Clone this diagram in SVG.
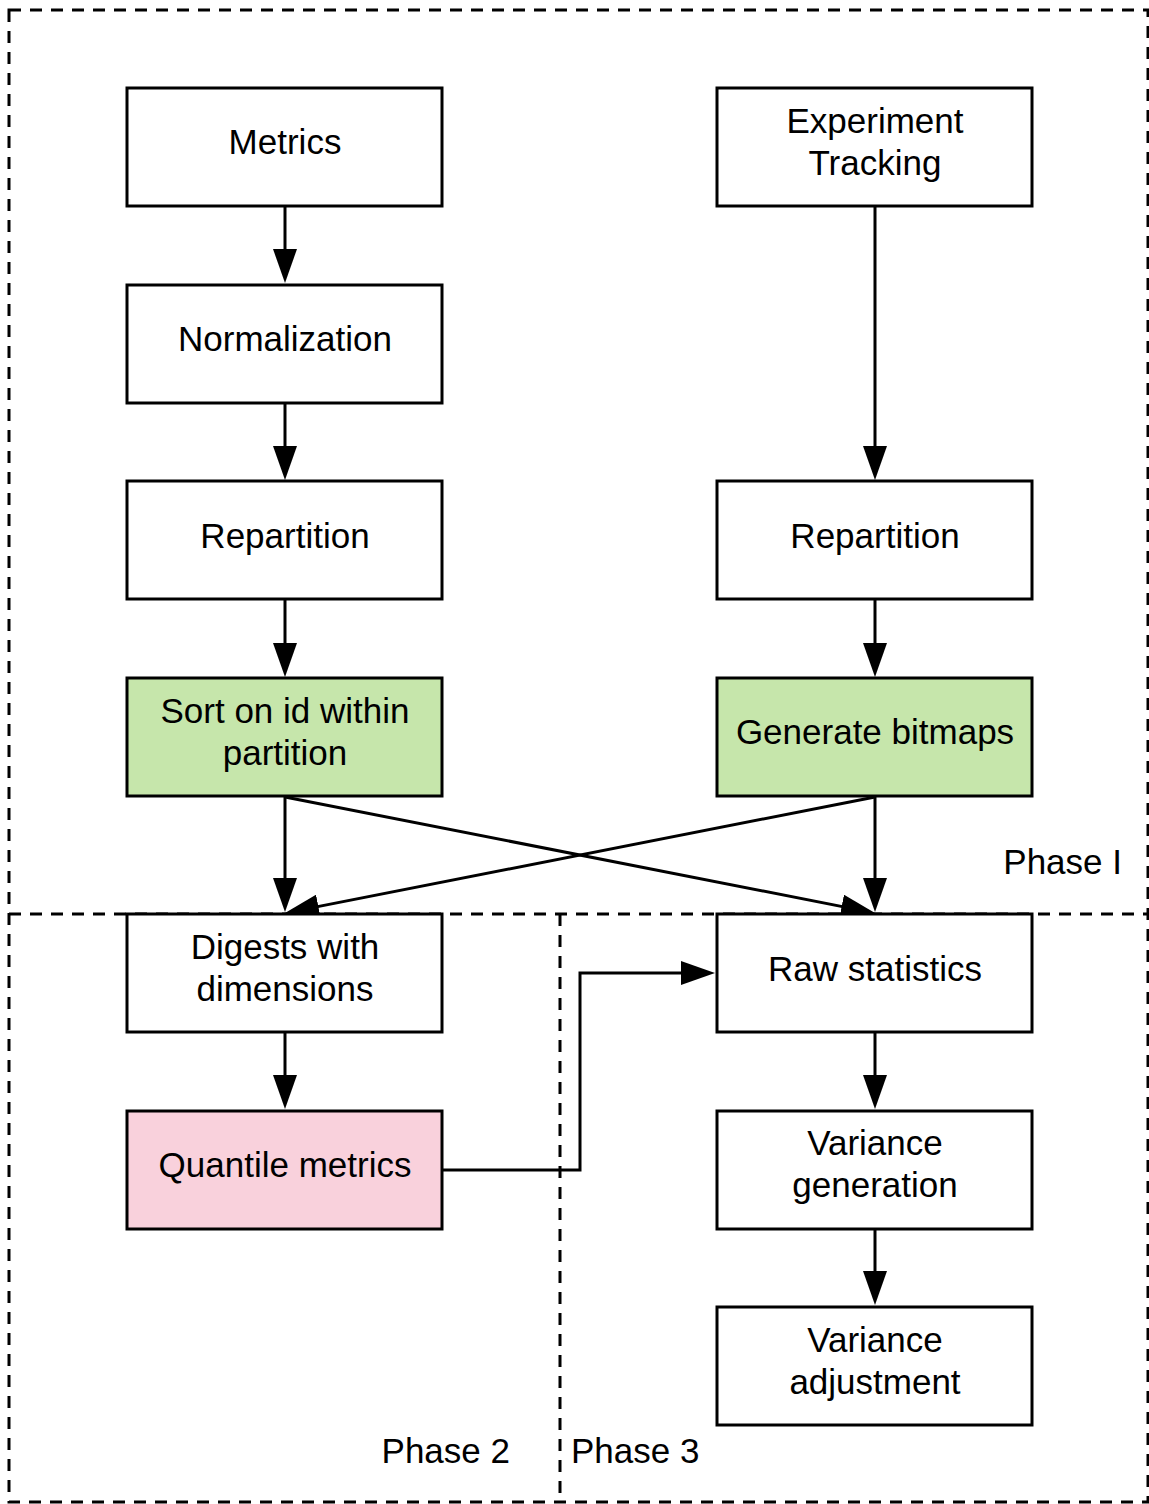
<svg xmlns="http://www.w3.org/2000/svg" width="1149" height="1504" viewBox="0 0 1149 1504">
<style>
.box{fill:#ffffff;stroke:#000;stroke-width:3}
.green{fill:#c6e6ab}
.pink{fill:#f9d1dc}
.dash{fill:none;stroke:#000;stroke-width:3;stroke-dasharray:12 9}
.edge{fill:none;stroke:#000;stroke-width:3;marker-end:url(#arr)}
text{font-family:"Liberation Sans",Arial,sans-serif;font-size:35px;fill:#000}
.c{text-anchor:middle}
</style>
<defs>
<marker id="arr" markerUnits="userSpaceOnUse" viewBox="0 0 34 24" refX="24" refY="12" markerWidth="34" markerHeight="24" orient="auto">
<path d="M0,0 L34,12 L0,24 z" fill="#000"/>
</marker>
</defs>
<g id="phases">
<rect x="9" y="10" width="1139" height="1492" class="dash"/>
<line x1="9" y1="914" x2="1148" y2="914" class="dash"/>
<line x1="560" y1="914" x2="560" y2="1502" class="dash"/>
<text x="1122" y="874" text-anchor="end">Phase I</text>
<text x="510" y="1463" text-anchor="end">Phase 2</text>
<text x="571" y="1463">Phase 3</text>
</g>
<g id="connectors">
<line x1="285" y1="206" x2="285" y2="273" class="edge"/>
<line x1="285" y1="403" x2="285" y2="470" class="edge"/>
<line x1="285" y1="599" x2="285" y2="667" class="edge"/>
<line x1="875" y1="206" x2="875" y2="470" class="edge"/>
<line x1="875" y1="599" x2="875" y2="667" class="edge"/>
<line x1="285" y1="797" x2="285" y2="902" class="edge"/>
<line x1="875" y1="797" x2="875" y2="902" class="edge"/>
<line x1="285" y1="797" x2="865.2" y2="911.1" class="edge"/>
<line x1="875" y1="797" x2="294.8" y2="911.1" class="edge"/>
<line x1="285" y1="1032" x2="285" y2="1099" class="edge"/>
<polyline points="442,1170 580,1170 580,973 705,973" class="edge"/>
<line x1="875" y1="1032" x2="875" y2="1099" class="edge"/>
<line x1="875" y1="1229" x2="875" y2="1295" class="edge"/>
</g>
<g id="metrics"><rect x="127" y="88" width="315" height="118" class="box"/><text x="285" y="154" class="c">Metrics</text></g>
<g id="normalization"><rect x="127" y="285" width="315" height="118" class="box"/><text x="285" y="351" class="c">Normalization</text></g>
<g id="repartition-left"><rect x="127" y="481" width="315" height="118" class="box"/><text x="285" y="548" class="c">Repartition</text></g>
<g id="sort"><rect x="127" y="678" width="315" height="118" class="box green"/><text x="285" y="723" class="c">Sort on id within</text><text x="285" y="765" class="c">partition</text></g>
<g id="experiment"><rect x="717" y="88" width="315" height="118" class="box"/><text x="875" y="133" class="c">Experiment</text><text x="875" y="175" class="c">Tracking</text></g>
<g id="repartition-right"><rect x="717" y="481" width="315" height="118" class="box"/><text x="875" y="548" class="c">Repartition</text></g>
<g id="bitmaps"><rect x="717" y="678" width="315" height="118" class="box green"/><text x="875" y="744" class="c">Generate bitmaps</text></g>
<g id="digests"><rect x="127" y="914" width="315" height="118" class="box"/><text x="285" y="959" class="c">Digests with</text><text x="285" y="1001" class="c">dimensions</text></g>
<g id="quantile"><rect x="127" y="1111" width="315" height="118" class="box pink"/><text x="285" y="1177" class="c">Quantile metrics</text></g>
<g id="raw"><rect x="717" y="914" width="315" height="118" class="box"/><text x="875" y="981" class="c">Raw statistics</text></g>
<g id="variance-gen"><rect x="717" y="1111" width="315" height="118" class="box"/><text x="875" y="1155" class="c">Variance</text><text x="875" y="1197" class="c">generation</text></g>
<g id="variance-adj"><rect x="717" y="1307" width="315" height="118" class="box"/><text x="875" y="1352" class="c">Variance</text><text x="875" y="1394" class="c">adjustment</text></g>
</svg>
